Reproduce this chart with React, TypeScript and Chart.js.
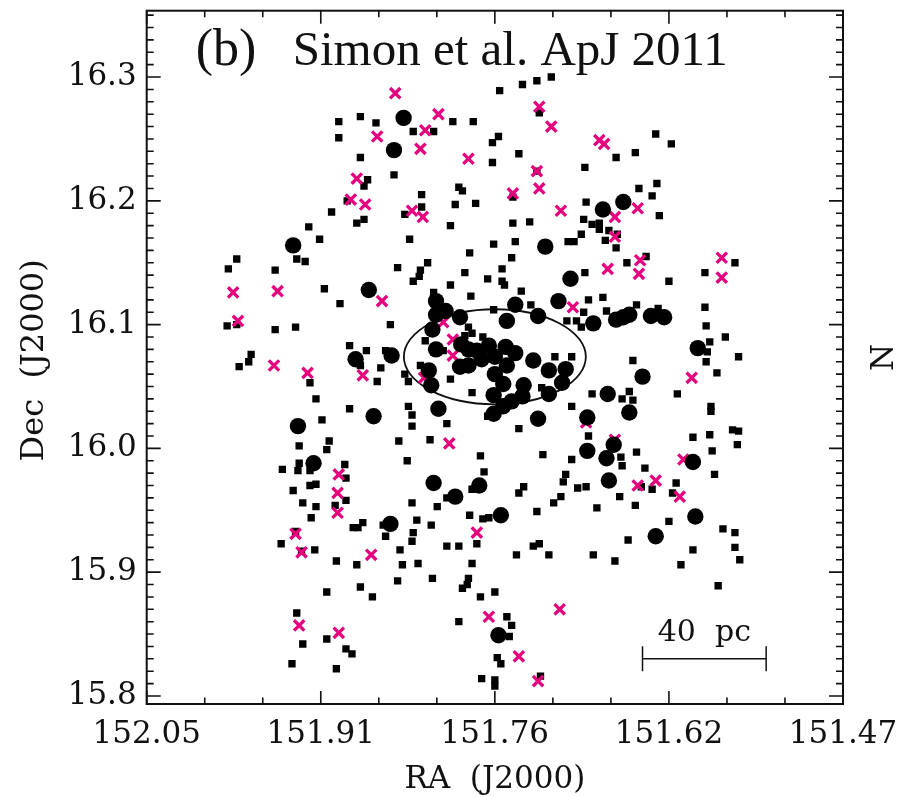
import React, { useEffect, useRef } from 'react';
import { Chart, registerables } from 'chart.js';

Chart.register(...registerables);

// Axis ranges (RA decreases to the right)
const RA_MIN = 151.47;
const RA_MAX = 152.05;
const DEC_MIN = 15.7935;
const DEC_MAX = 16.3536;

const xTickValues = [152.05, 151.905, 151.76, 151.615, 151.47];
const xTickLabels = ['152.05', '151.91', '151.76', '151.62', '151.47'];
const yTickValues = [15.8, 15.9, 16.0, 16.1, 16.2, 16.3];
const yTickLabels = ['15.8', '15.9', '16.0', '16.1', '16.2', '16.3'];

// Large filled circles [RA, Dec]
const circleStars: [number, number][] = [
  [151.836, 16.267], [151.844, 16.241], [151.928, 16.164], [151.670, 16.193], [151.653, 16.199],
  [151.718, 16.163], [151.865, 16.128], [151.876, 16.072], [151.846, 16.075], [151.861, 16.026],
  [151.924, 16.018], [151.911, 15.988], [151.697, 16.137], [151.707, 16.119], [151.809, 16.119],
  [151.801, 16.111], [151.809, 16.108], [151.789, 16.106], [151.743, 16.116], [151.724, 16.107],
  [151.750, 16.103], [151.678, 16.101], [151.659, 16.104], [151.653, 16.106], [151.648, 16.108],
  [151.812, 16.096], [151.788, 16.084], [151.809, 16.080], [151.782, 16.080], [151.775, 16.079],
  [151.765, 16.083], [151.751, 16.082], [151.743, 16.077], [151.771, 16.072], [151.760, 16.074],
  [151.750, 16.067], [151.728, 16.071], [151.782, 16.067], [151.789, 16.066], [151.815, 16.063],
  [151.760, 16.060], [151.715, 16.063], [151.701, 16.064], [151.813, 16.051], [151.753, 16.052],
  [151.736, 16.051], [151.704, 16.053], [151.761, 16.043], [151.737, 16.042], [151.715, 16.044],
  [151.746, 16.038], [151.753, 16.034], [151.761, 16.028], [151.637, 16.058], [151.666, 16.044],
  [151.648, 16.029], [151.683, 16.025], [151.724, 16.024], [151.807, 16.032], [151.683, 15.998],
  [151.667, 15.992], [151.661, 16.003], [151.630, 16.107], [151.619, 16.106], [151.591, 16.081],
  [151.595, 15.989], [151.847, 15.939], [151.811, 15.972], [151.793, 15.961], [151.773, 15.970],
  [151.755, 15.946], [151.665, 15.974], [151.757, 15.849], [151.593, 15.945], [151.626, 15.929],
];

// Magenta crosses [RA, Dec]
const crossStars: [number, number][] = [
  [151.843, 16.287], [151.858, 16.252], [151.875, 16.218], [151.880, 16.201], [151.868, 16.197],
  [151.807, 16.270], [151.818, 16.257], [151.822, 16.242], [151.782, 16.234], [151.723, 16.276],
  [151.713, 16.260], [151.673, 16.249], [151.669, 16.246], [151.725, 16.224], [151.723, 16.210],
  [151.745, 16.206], [151.705, 16.192], [151.829, 16.192], [151.820, 16.187], [151.660, 16.187],
  [151.641, 16.194], [151.660, 16.171], [151.978, 16.126], [151.941, 16.127], [151.854, 16.119],
  [151.974, 16.103], [151.944, 16.067], [151.916, 16.061], [151.870, 16.059], [151.890, 15.979],
  [151.666, 16.145], [151.639, 16.152], [151.640, 16.141], [151.695, 16.114], [151.803, 16.102],
  [151.795, 16.088], [151.795, 16.075], [151.819, 16.057], [151.798, 16.004], [151.684, 16.021],
  [151.660, 16.007], [151.571, 16.154], [151.571, 16.138], [151.596, 16.057], [151.603, 15.991],
  [151.891, 15.964], [151.891, 15.948], [151.926, 15.931], [151.921, 15.916], [151.863, 15.914],
  [151.923, 15.857], [151.890, 15.851], [151.641, 15.970], [151.775, 15.932], [151.765, 15.864],
  [151.706, 15.870], [151.740, 15.832], [151.724, 15.812], [151.626, 15.974], [151.606, 15.961],
];

// Small black squares [RA, Dec]
const squareStars: [number, number][] = [
  [151.890, 16.264], [151.872, 16.268], [151.859, 16.263], [151.890, 16.251], [151.872, 16.235],
  [151.844, 16.221], [151.866, 16.217], [151.869, 16.212], [151.883, 16.200], [151.896, 16.191],
  [151.915, 16.179], [151.869, 16.185], [151.875, 16.182], [151.906, 16.169], [151.756, 16.289],
  [151.737, 16.294], [151.725, 16.297], [151.713, 16.300], [151.795, 16.264], [151.778, 16.264],
  [151.828, 16.256], [151.811, 16.256], [151.757, 16.252], [151.762, 16.247], [151.740, 16.238],
  [151.762, 16.231], [151.723, 16.271], [151.659, 16.235], [151.643, 16.239], [151.685, 16.227],
  [151.725, 16.224], [151.790, 16.211], [151.787, 16.208], [151.821, 16.205], [151.821, 16.195],
  [151.835, 16.189], [151.793, 16.197], [151.776, 16.198], [151.797, 16.180], [151.831, 16.169],
  [151.745, 16.203], [151.684, 16.199], [151.640, 16.210], [151.686, 16.185], [151.745, 16.182],
  [151.731, 16.183], [151.679, 16.181], [151.673, 16.182], [151.673, 16.177], [151.665, 16.176],
  [151.688, 16.173], [151.668, 16.168], [151.699, 16.167], [151.694, 16.167], [151.743, 16.167],
  [151.761, 16.165], [151.658, 16.173], [151.626, 16.254], [151.613, 16.246], [151.625, 16.214],
  [151.629, 16.204], [151.623, 16.188], [151.975, 16.153], [151.982, 16.145], [151.925, 16.153],
  [151.918, 16.151], [151.943, 16.144], [151.841, 16.146], [151.902, 16.129], [151.889, 16.117],
  [151.983, 16.099], [151.975, 16.100], [151.943, 16.096], [151.926, 16.098], [151.847, 16.100],
  [151.963, 16.076], [151.965, 16.070], [151.973, 16.066], [151.881, 16.083], [151.867, 16.079],
  [151.851, 16.079], [151.872, 16.067], [151.855, 16.065], [151.858, 16.054], [151.914, 16.053],
  [151.909, 16.040], [151.881, 16.032], [151.904, 16.023], [151.898, 16.006], [151.900, 15.999],
  [151.923, 16.002], [151.840, 16.006], [151.923, 15.988], [151.937, 15.983], [151.924, 15.982],
  [151.914, 15.982], [151.885, 15.987], [151.659, 16.162], [151.781, 16.158], [151.746, 16.154],
  [151.816, 16.150], [151.822, 16.144], [151.823, 16.139], [151.828, 16.135], [151.785, 16.142],
  [151.754, 16.145], [151.766, 16.137], [151.754, 16.135], [151.752, 16.132], [151.797, 16.132],
  [151.685, 16.142], [151.650, 16.150], [151.738, 16.127], [151.811, 16.126], [151.780, 16.123],
  [151.682, 16.120], [151.670, 16.122], [151.730, 16.116], [151.761, 16.112], [151.642, 16.116],
  [151.667, 16.111], [151.686, 16.110], [151.700, 16.103], [151.692, 16.103], [151.688, 16.098],
  [151.782, 16.098], [151.779, 16.093], [151.785, 16.091], [151.770, 16.090], [151.818, 16.087],
  [151.803, 16.079], [151.710, 16.074], [151.696, 16.074], [151.645, 16.071], [151.822, 16.067],
  [151.835, 16.060], [151.832, 16.054], [151.797, 16.056], [151.721, 16.049], [151.779, 16.045],
  [151.679, 16.044], [151.648, 16.046], [151.654, 16.040], [151.645, 16.039], [151.696, 16.034],
  [151.832, 16.034], [151.829, 16.027], [151.829, 16.018], [151.800, 16.020], [151.766, 16.026],
  [151.740, 16.016], [151.814, 16.007], [151.682, 16.010], [151.772, 15.994], [151.720, 15.995],
  [151.833, 15.990], [151.696, 15.991], [151.642, 15.997], [151.654, 15.986], [151.655, 15.993],
  [151.769, 15.981], [151.701, 15.979], [151.634, 16.155], [151.560, 16.150], [151.585, 16.142],
  [151.615, 16.135], [151.624, 16.113], [151.585, 16.114], [151.584, 16.099], [151.568, 16.090],
  [151.581, 16.086], [151.583, 16.078], [151.557, 16.074], [151.584, 16.070], [151.575, 16.061],
  [151.608, 16.044], [151.580, 16.034], [151.580, 16.030], [151.562, 16.015], [151.557, 16.014],
  [151.581, 16.011], [151.595, 16.009], [151.558, 16.003], [151.579, 15.998], [151.635, 15.984],
  [151.577, 15.979], [151.884, 15.976], [151.928, 15.966], [151.914, 15.970], [151.909, 15.971],
  [151.920, 15.956], [151.909, 15.953], [151.893, 15.954], [151.884, 15.958], [151.913, 15.944],
  [151.870, 15.940], [151.878, 15.936], [151.874, 15.936], [151.853, 15.938], [151.851, 15.929],
  [151.926, 15.933], [151.938, 15.923], [151.921, 15.917], [151.910, 15.918], [151.892, 15.909],
  [151.875, 15.906], [151.900, 15.884], [151.872, 15.888], [151.862, 15.880], [151.925, 15.867],
  [151.920, 15.842], [151.900, 15.846], [151.884, 15.838], [151.879, 15.834], [151.929, 15.826],
  [151.892, 15.822], [151.703, 15.973], [151.736, 15.969], [151.740, 15.964], [151.691, 15.968],
  [151.684, 15.969], [151.705, 15.961], [151.711, 15.956], [151.656, 15.961], [151.643, 15.954],
  [151.675, 15.952], [151.725, 15.949], [151.829, 15.956], [151.808, 15.953], [151.800, 15.960],
  [151.779, 15.967], [151.781, 15.946], [151.770, 15.943], [151.765, 15.944], [151.825, 15.942],
  [151.813, 15.938], [151.828, 15.932], [151.829, 15.925], [151.839, 15.918], [151.800, 15.921],
  [151.790, 15.921], [151.775, 15.923], [151.728, 15.921], [151.723, 15.923], [151.742, 15.914],
  [151.715, 15.914], [151.678, 15.914], [151.649, 15.926], [151.660, 15.909], [151.837, 15.906],
  [151.824, 15.907], [151.779, 15.907], [151.841, 15.893], [151.812, 15.895], [151.782, 15.895],
  [151.783, 15.890], [151.787, 15.887], [151.772, 15.880], [151.760, 15.884], [151.750, 15.864],
  [151.746, 15.857], [151.790, 15.860], [151.748, 15.848], [151.758, 15.831], [151.755, 15.826],
  [151.771, 15.814], [151.760, 15.813], [151.760, 15.808], [151.722, 15.816], [151.638, 15.969],
  [151.629, 15.967], [151.609, 15.972], [151.612, 15.964], [151.615, 15.941], [151.570, 15.935],
  [151.560, 15.932], [151.560, 15.920], [151.556, 15.910], [151.595, 15.918], [151.605, 15.906],
  [151.574, 15.889],
];

// Annotations
const ellipseCenter = { ra: 151.76, dec: 16.074 };
const ellipseSemi = { ra: 0.0758, dec: 0.0384 };
const scaleBar = { raStart: 151.637, raEnd: 151.534, dec: 15.83, cap: 0.0101, label: '40  pc' };
const panelTag = '(b)';
const panelTitle = 'Simon et al. ApJ 2011';
const xTitle = 'RA  (J2000)';
const yTitle = 'Dec  (J2000)';
const rightTitle = 'N';

const MAGENTA = '#e5007e';
const TICK_FONT = "'DejaVu Serif', serif";

const toXY = (arr: [number, number][]) => arr.map(([x, y]) => ({ x, y }));

const zeroPad = (scale: any) => {
  scale.paddingLeft = 0;
  scale.paddingRight = 0;
  scale.paddingTop = 0;
  scale.paddingBottom = 0;
};

const decorPlugin = {
  id: 'decor',
  beforeDatasetsDraw(chart: any) {
    const { ctx, scales } = chart;
    const xs = scales.x;
    const ys = scales.y;
    const cx = xs.getPixelForValue(ellipseCenter.ra);
    const cy = ys.getPixelForValue(ellipseCenter.dec);
    const rx = Math.abs(xs.getPixelForValue(ellipseCenter.ra + ellipseSemi.ra) - cx);
    const ry = Math.abs(ys.getPixelForValue(ellipseCenter.dec + ellipseSemi.dec) - cy);
    ctx.save();
    ctx.beginPath();
    ctx.ellipse(cx, cy, rx, ry, 0, 0, Math.PI * 2);
    ctx.lineWidth = 1.8;
    ctx.strokeStyle = '#111';
    ctx.stroke();
    ctx.restore();
  },
  afterDatasetsDraw(chart: any) {
    const { ctx, chartArea: a, scales } = chart;
    const xs = scales.x;
    const ys = scales.y;
    ctx.save();
    ctx.strokeStyle = '#111';
    // frame
    ctx.lineWidth = 2;
    ctx.strokeRect(a.left, a.top, a.right - a.left, a.bottom - a.top);
    // x ticks (inward, top and bottom)
    ctx.lineWidth = 1.6;
    const majStepX = 0.145;
    for (let i = 0; i <= 12; i++) {
      const v = RA_MAX - (i * majStepX) / 3;
      const px = xs.getPixelForValue(v);
      const len = i % 3 === 0 ? 13 : 6.5;
      ctx.beginPath();
      ctx.moveTo(px, a.bottom);
      ctx.lineTo(px, a.bottom - len);
      ctx.moveTo(px, a.top);
      ctx.lineTo(px, a.top + len);
      ctx.stroke();
    }
    // y ticks
    for (let k = 0; k <= 55; k++) {
      const v = 15.8 + k * 0.01;
      if (v > DEC_MAX) break;
      const py = ys.getPixelForValue(v);
      const len = k % 10 === 0 ? 14 : 7;
      ctx.beginPath();
      ctx.moveTo(a.left, py);
      ctx.lineTo(a.left + len, py);
      ctx.moveTo(a.right, py);
      ctx.lineTo(a.right - len, py);
      ctx.stroke();
    }
    // scale bar
    const bx0 = xs.getPixelForValue(scaleBar.raStart);
    const bx1 = xs.getPixelForValue(scaleBar.raEnd);
    const by = ys.getPixelForValue(scaleBar.dec);
    const capH = Math.abs(ys.getPixelForValue(scaleBar.dec + scaleBar.cap) - by);
    ctx.lineWidth = 1.5;
    ctx.beginPath();
    ctx.moveTo(bx0, by);
    ctx.lineTo(bx1, by);
    ctx.moveTo(bx0, by - capH);
    ctx.lineTo(bx0, by + capH);
    ctx.moveTo(bx1, by - capH);
    ctx.lineTo(bx1, by + capH);
    ctx.stroke();
    ctx.fillStyle = '#111';
    ctx.font = "30px 'DejaVu Serif', serif";
    ctx.textAlign = 'center';
    ctx.textBaseline = 'alphabetic';
    ctx.fillText(scaleBar.label, (bx0 + bx1) / 2, by - 18);
    // panel title
    ctx.textAlign = 'left';
    ctx.font = "52px 'Liberation Serif', serif";
    ctx.fillText(panelTag, a.left + 49, a.top + 54);
    ctx.font = "49px 'Liberation Serif', serif";
    ctx.fillText(panelTitle, a.left + 146, a.top + 54);
    // axis titles
    ctx.font = "31px 'DejaVu Serif', serif";
    ctx.textAlign = 'center';
    ctx.fillText(xTitle, (a.left + a.right) / 2, 788);
    ctx.save();
    ctx.translate(43, (a.top + a.bottom) / 2 + 3);
    ctx.rotate(-Math.PI / 2);
    ctx.font = "32px 'DejaVu Serif', serif";
    ctx.fillText(yTitle, 0, 0);
    ctx.restore();
    ctx.save();
    ctx.translate(893, (a.top + a.bottom) / 2);
    ctx.rotate(-Math.PI / 2);
    ctx.font = "31px 'DejaVu Serif', serif";
    ctx.fillText(rightTitle, 0, 0);
    ctx.restore();
    ctx.restore();
  },
};

export default function App() {
  const canvasRef = useRef<HTMLCanvasElement | null>(null);

  useEffect(() => {
    document.body.style.margin = '0';
    document.body.style.background = '#ffffff';
    const canvas = canvasRef.current;
    if (!canvas) return;
    const chart = new Chart(canvas, {
      type: 'scatter',
      data: {
        datasets: [
          {
            label: 'members',
            data: toXY(circleStars),
            pointStyle: 'circle',
            pointRadius: 8.2,
            pointBackgroundColor: '#000',
            pointBorderWidth: 0,
            order: 0,
          },
          {
            label: 'crosses',
            data: toXY(crossStars),
            pointStyle: 'crossRot',
            pointRadius: 7.3,
            pointBorderColor: MAGENTA,
            pointBackgroundColor: MAGENTA,
            pointBorderWidth: 3.3,
            order: 1,
          },
          {
            label: 'squares',
            data: toXY(squareStars),
            pointStyle: 'rect',
            pointRadius: 5.2,
            pointBackgroundColor: '#000',
            pointBorderWidth: 0,
            order: 2,
          },
        ],
      },
      options: {
        responsive: false,
        animation: false,
        devicePixelRatio: 1,
        layout: { padding: { left: 0, right: 57, top: 10.7, bottom: 0 } },
        plugins: { legend: { display: false }, tooltip: { enabled: false }, title: { display: false } },
        scales: {
          x: {
            type: 'linear',
            min: RA_MIN,
            max: RA_MAX,
            reverse: true,
            grid: { display: false, drawTicks: false },
            border: { display: false },
            afterBuildTicks: (scale: any) => {
              scale.ticks = xTickValues.map((v) => ({ value: v }));
            },
            afterFit: (scale: any) => {
              scale.height = 93;
              zeroPad(scale);
            },
            ticks: {
              autoSkip: false,
              maxRotation: 0,
              padding: 12,
              color: '#111',
              font: { family: TICK_FONT, size: 31 },
              callback: (_v: any, i: number) => xTickLabels[i],
            },
          },
          y: {
            type: 'linear',
            min: DEC_MIN,
            max: DEC_MAX,
            grid: { display: false, drawTicks: false },
            border: { display: false },
            afterBuildTicks: (scale: any) => {
              scale.ticks = yTickValues.map((v) => ({ value: v }));
            },
            afterFit: (scale: any) => {
              scale.width = 146.7;
              zeroPad(scale);
            },
            ticks: {
              autoSkip: false,
              padding: 10,
              color: '#111',
              font: { family: TICK_FONT, size: 31 },
              callback: (_v: any, i: number) => yTickLabels[i],
            },
          },
        },
      },
      plugins: [decorPlugin],
    });
    return () => chart.destroy();
  }, []);

  return (
    <div style={{ width: 900, height: 797, overflow: 'hidden', background: '#fff' }}>
      <canvas ref={canvasRef} width={900} height={797} style={{ display: 'block' }} />
    </div>
  );
}
